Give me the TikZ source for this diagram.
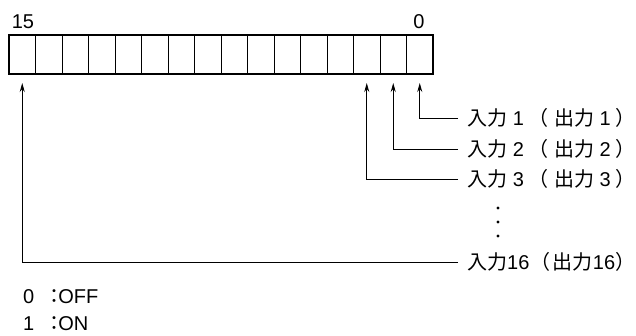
\documentclass[tikz,border=0pt]{standalone}
\usepackage{fontspec}
\setmainfont{Liberation Sans}
\newfontfamily\cjk{Noto Sans CJK JP}
\usetikzlibrary{arrows.meta}
% label text: input n (output n), hand-spaced to follow the reference
\newcommand{\inoutone}[1]{{\cjk 入力} #1\kern4.3bp{\cjk （}\kern6bp{\cjk 出力} #1\kern5bp{\cjk ）}}
\begin{document}
\begin{tikzpicture}[x=1bp,y=-1bp,
  cell/.style={draw, line width=0.8bp, minimum width=26.5bp, minimum height=39bp, inner sep=0pt, outer sep=0pt, anchor=north west},
  txt/.style={font=\fontsize{20bp}{22bp}\selectfont, inner sep=0pt},
  lab/.style={txt, anchor=west, inner xsep=9bp},
  conn/.style={line width=0.8bp, -{Stealth[length=9bp,width=5bp,inset=3bp]}, shorten >=9bp}]
\useasboundingbox (0,0) rectangle (636,335);
% cells: c0 rightmost, c15 leftmost
\foreach \i in {0,...,15}{
  \node[cell] (c\i) at ({9+26.5*(15-\i)},35) {};
}
\draw[line width=2.5bp] (c15.north west) rectangle (c0.south east);
\node[txt] (b15) at (23,22) {15};
\node[txt] (b0) at (419,22) {0};
% labels
\node[lab] (l1) at (458,118) {\inoutone{1}};
\node[lab] (l2) at (458,149) {\inoutone{2}};
\node[lab] (l3) at (458,179) {\inoutone{3}};
\node[lab, inner xsep=0pt] (l16) at (458,262) {\kern9bp{\cjk 入力}16\kern1.5bp{\cjk （}\kern2bp{\cjk 出力}16{\cjk ）}};
\draw[conn] (l1.west) -| (c0.south);
\draw[conn] (l2.west) -| (c1.south);
\draw[conn] (l3.west) -| (c2.south);
\draw[conn] (l16.west) -| (c15.south);
\foreach \y in {208,222,236}{ \fill (498,\y) circle (1.6bp); }
% legend
\node[txt, anchor=west] (off) at (23,297) {0\kern10bp{\cjk ：}\kern-6bp OFF};
\node[txt, anchor=west] (on) at (23,324) {1\kern10bp{\cjk ：}\kern-6bp ON};
\end{tikzpicture}
\end{document}
